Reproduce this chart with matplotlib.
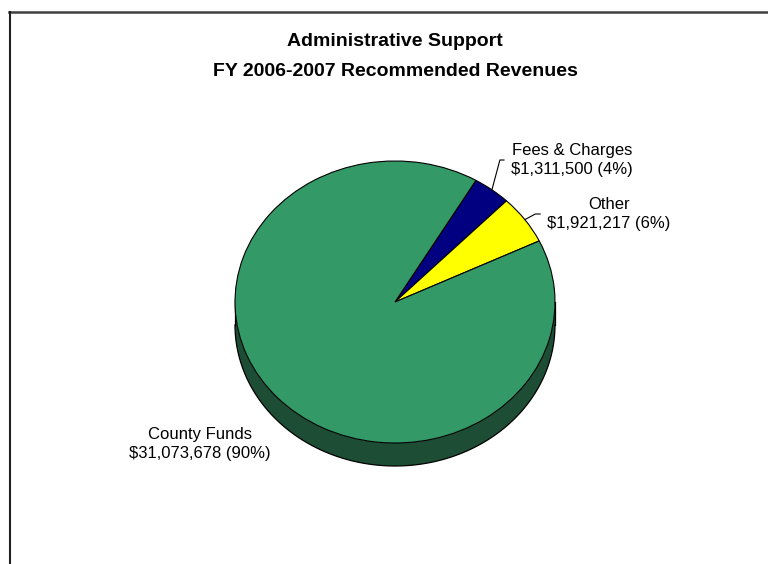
import numpy as np
import matplotlib
matplotlib.use("Agg")
import matplotlib.pyplot as plt
from matplotlib.patches import Polygon
from matplotlib.lines import Line2D

plt.rcParams['font.family'] = ['Liberation Sans', 'DejaVu Sans']

# revenue sources
sources = ["Fees & Charges", "Other", "County Funds"]
amounts = [1311500, 1921217, 31073678]
percents = [4, 6, 90]
top_colors = ["#000080", "#FFFF00", "#339966"]
side_colors = ["#00004a", "#8c8c00", "#1d4e35"]

title_lines = ["Administrative Support", "FY 2006-2007 Recommended Revenues"]

W, H = 768, 564
fig = plt.figure(figsize=(W / 100, H / 100), dpi=100)
ax = fig.add_axes([0, 0, 1, 1])
ax.set_xlim(-2.4, 2.4)
ax.set_ylim(-2.0, 2.0)


def px(x, y):
    # pixel position (from top-left) -> data coords
    return (x - W / 2) / 160.0, (H / 2 - y) / 141.0


cx, cy = px(395, 302)
depth = 23 / 141.0

wedges, _ = ax.pie(amounts, colors=top_colors, startangle=59.6, counterclock=False,
                   radius=1.0, center=(cx, cy),
                   wedgeprops=dict(edgecolor="black", linewidth=0.8, zorder=3))
ax.set_aspect("auto")
ax.set_xlim(-2.4, 2.4)
ax.set_ylim(-2.0, 2.0)
ax.axis("off")

# side walls of the front half
for w, sc in zip(wedges, side_colors):
    t1, t2 = w.theta1 % 360, w.theta2 % 360
    if t2 <= t1:
        t2 += 360
    for lo, hi in [(180, 360), (540, 720)]:
        a, b = max(t1, lo), min(t2, hi)
        if b <= a:
            continue
        t = np.radians(np.linspace(a, b, 120))
        xs = cx + np.cos(t)
        ys = cy + np.sin(t)
        pts = np.vstack([np.column_stack([xs, ys]),
                         np.column_stack([xs[::-1], ys[::-1] - depth])])
        ax.add_patch(Polygon(pts, closed=True, facecolor=sc, edgecolor="none", zorder=1))
        ax.plot(xs, ys - depth, color="black", lw=0.9, zorder=2)

ax.plot([cx - 1, cx - 1], [cy, cy - depth], color="black", lw=0.9, zorder=2)
ax.plot([cx + 1, cx + 1], [cy, cy - depth], color="black", lw=0.9, zorder=2)

# labels
label_pos = [(572, 160), (609, 214), (200, 444)]
leader = [True, True, False]
angleB = [75, 28, None]
for w, name, amt, pct, pos, has_line, ab in zip(wedges, sources, amounts, percents,
                                                  label_pos, leader, angleB):
    text = f"{name}\n${amt:,.0f} ({pct}%)"
    mid = np.radians((w.theta1 + w.theta2) / 2)
    edge = (cx + np.cos(mid), cy + np.sin(mid))
    if has_line:
        ax.annotate(text, xy=edge, xytext=px(*pos), ha="center", va="center",
                    fontsize=12, linespacing=1.35, color="black",
                    arrowprops=dict(arrowstyle="-", color="black", lw=0.8,
                                    shrinkA=3, shrinkB=0, relpos=(0, 0.5),
                                    connectionstyle=f"angle,angleA=0,angleB={ab},rad=0"))
    else:
        ax.text(*px(*pos), text, ha="center", va="center", fontsize=12,
                linespacing=1.35, color="black")

fig.text(395 / W, 1 - 42 / H, title_lines[0], ha="center", va="center",
         fontsize=14, fontweight="bold")
fig.text(395 / W, 1 - 71 / H, title_lines[1], ha="center", va="center",
         fontsize=14, fontweight="bold")

# chart area border (top and left edges)
fig.add_artist(Line2D([9 / W, 1], [1 - 11.5 / H, 1 - 11.5 / H], color="#404040",
                      lw=1.8, transform=fig.transFigure))
fig.add_artist(Line2D([9.5 / W, 9.5 / W], [0, 1 - 11.5 / H], color="#202020",
                      lw=1.5, transform=fig.transFigure))

fig.savefig("out.png", dpi=100, facecolor="white")
